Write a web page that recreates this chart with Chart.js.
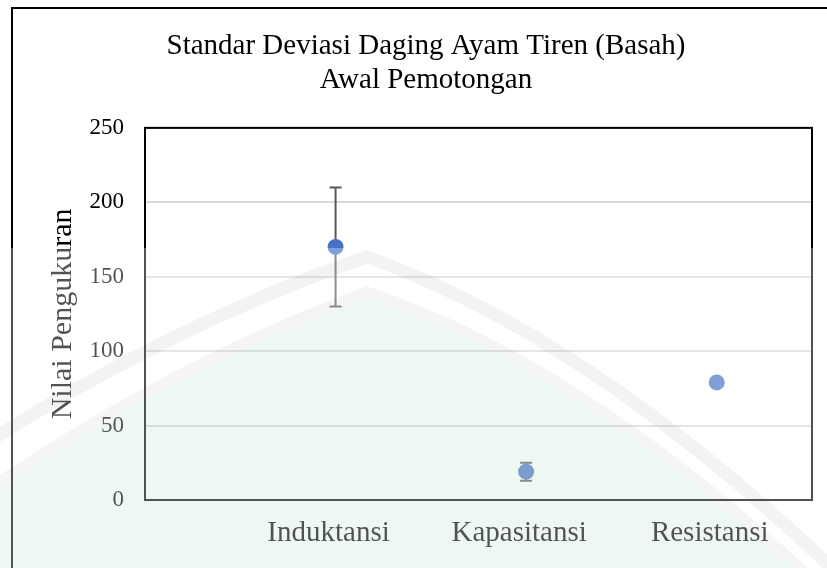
<!DOCTYPE html>
<html>
<head>
<meta charset="utf-8">
<script src="https://cdn.jsdelivr.net/npm/chart.js@4.4.0/dist/chart.umd.min.js"></script>
<style>
  body { margin: 0; background: #fff; }
  #wrap { position: relative; width: 827px; height: 568px; overflow: hidden; background: #fff; }
  #frame { position: absolute; left: 11px; top: 7px; width: 900px; height: 700px; border: 2px solid #000; }
  #wrap canvas { position: absolute; left: 0; top: 0; }
  .mark { position: absolute; left: 0; top: 0; pointer-events: none; }
  #tint { mix-blend-mode: multiply; }
</style>
</head>
<body>
<div id="wrap">
  <div id="frame"></div>
  <canvas id="chart" width="827" height="568"></canvas>
  <!-- faint watermark that covers the lower part of the picture -->
  <svg id="tint" class="mark" width="827" height="568">
    <clipPath id="low"><rect x="0" y="248" width="827" height="320"/></clipPath>
    <g clip-path="url(#low)">
      <path d="M-20 495 Q 170 365 367 292 Q 600 370 860 625 L860 640 L-20 640 Z" fill="rgb(229,245,236)"/>
      <path d="M-20 447 Q 170 325 367 257 Q 600 340 860 595" fill="none" stroke="rgb(238,238,238)" stroke-width="13"/>
      <path d="M-20 495 Q 170 365 367 292 Q 600 370 860 625" fill="none" stroke="rgb(240,240,240)" stroke-width="11"/>
    </g>
  </svg>
  <svg class="mark" width="827" height="568">
    <rect x="0" y="248" width="827" height="320" fill="#fff" fill-opacity="0.32"/>
  </svg>
</div>
<script>
const categories = ['Induktansi', 'Kapasitansi', 'Resistansi'];
const means = [170, 19, 79];
const stdDev = [40, 6, 2];
const yMin = 0, yMax = 250, yStep = 50;

const serif = "'Liberation Serif', 'Times New Roman', serif";

// error bars, drawn under the points
const errorBars = {
  id: 'errorBars',
  beforeDatasetsDraw(chart) {
    const ctx = chart.ctx;
    const xs = chart.scales.x, ys = chart.scales.y;
    ctx.save();
    ctx.strokeStyle = '#595959';
    ctx.lineWidth = 2;
    means.forEach((m, i) => {
      const x = xs.getPixelForValue(i + 1);
      const top = ys.getPixelForValue(m + stdDev[i]);
      const bot = ys.getPixelForValue(m - stdDev[i]);
      ctx.beginPath();
      ctx.moveTo(x, top); ctx.lineTo(x, bot);
      ctx.moveTo(x - 6, top); ctx.lineTo(x + 6, top);
      ctx.moveTo(x - 6, bot); ctx.lineTo(x + 6, bot);
      ctx.stroke();
    });
    ctx.restore();
  }
};

// black box round the plot area
const plotBorder = {
  id: 'plotBorder',
  afterDraw(chart) {
    const a = chart.chartArea;
    const ctx = chart.ctx;
    ctx.save();
    ctx.strokeStyle = '#000';
    ctx.lineWidth = 2;
    ctx.strokeRect(a.left, a.top, a.right - a.left, a.bottom - a.top);
    ctx.restore();
  }
};

new Chart(document.getElementById('chart'), {
  type: 'scatter',
  data: {
    datasets: [{
      data: means.map((m, i) => ({ x: i + 1, y: m })),
      backgroundColor: '#4472C4',
      borderWidth: 0,
      pointRadius: 8,
      pointHoverRadius: 8
    }]
  },
  plugins: [errorBars, plotBorder],
  options: {
    responsive: false,
    animation: false,
    events: [],
    layout: { padding: { left: 40, right: 15, top: 0, bottom: 0 } },
    plugins: {
      legend: { display: false },
      tooltip: { enabled: false },
      title: {
        display: true,
        text: ['Standar Deviasi Daging Ayam Tiren (Basah)', 'Awal Pemotongan'],
        color: '#000',
        font: { family: serif, size: 29, weight: 'normal', lineHeight: 1.17 },
        padding: { top: 29, bottom: 31 }
      }
    },
    scales: {
      x: {
        type: 'linear',
        min: 0,
        max: 3.5,
        afterFit(scale) { scale.height = 68; },
        grid: { display: false },
        border: { display: false },
        ticks: {
          stepSize: 1,
          padding: 8,
          labelOffset: -7,
          color: '#000',
          font: { family: serif, size: 29 },
          callback: v => categories[v - 1] || ''
        }
      },
      y: {
        min: yMin,
        max: yMax,
        afterFit(scale) { scale.width = 105; },
        grid: { color: '#d9d9d9', lineWidth: 2, drawTicks: false },
        border: { display: false },
        ticks: {
          stepSize: yStep,
          padding: 21,
          color: '#000',
          font: { family: serif, size: 23 }
        },
        title: {
          display: true,
          text: 'Nilai Pengukuran',
          color: '#000',
          font: { family: serif, size: 30, weight: 'normal' },
          padding: { top: 5, bottom: 0 }
        }
      }
    }
  }
});
</script>
</body>
</html>
